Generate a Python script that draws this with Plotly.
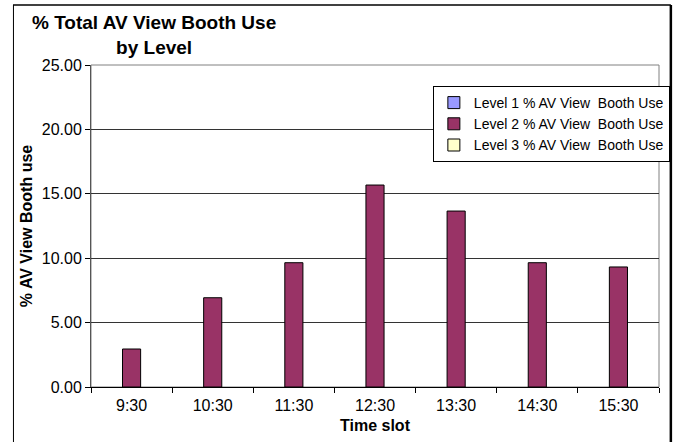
import plotly.graph_objects as go

# data
time_slots = ["9:30", "10:30", "11:30", "12:30", "13:30", "14:30", "15:30"]
level1_use = [None, None, None, None, None, None, None]
level2_use = [2.95, 6.93, 9.65, 15.68, 13.66, 9.65, 9.32]
level3_use = [None, None, None, None, None, None, None]

series_names = [
    "Level 1 % AV View  Booth Use",
    "Level 2 % AV View  Booth Use",
    "Level 3 % AV View  Booth Use",
]
series_colors = ["#9999FF", "#993366", "#FFFFCC"]

FONT = "Liberation Sans, Arial, sans-serif"

W, H = 682, 442
L, R, T, B = 91, 666, 65, 387  # plot area in pixels
pw, ph = R - L, B - T


def px_x(p):
    return (p - L) / pw


def px_y(p):
    return (B - p) / ph


fig = go.Figure()
for name, vals, color in zip(series_names, [level1_use, level2_use, level3_use], series_colors):
    fig.add_trace(
        go.Bar(
            x=time_slots,
            y=vals,
            name=name,
            marker=dict(color=color, line=dict(color="black", width=1)),
        )
    )

fig.update_layout(
    width=W,
    height=H,
    margin=dict(l=L, r=W - R, t=T, b=H - B, pad=0),
    paper_bgcolor="white",
    plot_bgcolor="white",
    font=dict(family=FONT, size=16, color="black"),
    barmode="group",
    bargap=0.33,
    bargroupgap=0,
    legend=dict(
        x=px_x(677),
        xanchor="right",
        y=px_y(86),
        yanchor="top",
        bgcolor="white",
        bordercolor="black",
        borderwidth=1,
        font=dict(size=14, family=FONT),
        itemwidth=30,
        tracegroupgap=0,
        traceorder="normal",
    ),
    xaxis=dict(
        type="category",
        showgrid=False,
        showline=True,
        linecolor="black",
        linewidth=1,
        ticks="outside",
        tickson="boundaries",
        ticklen=5,
        tickcolor="black",
        tickfont=dict(size=16),
        ticklabelstandoff=4,
        title=dict(text="<b>Time slot</b>", font=dict(size=16), standoff=6),
    ),
    yaxis=dict(
        range=[0, 25],
        dtick=5,
        tickformat=".2f",
        showgrid=True,
        gridcolor="#333333",
        gridwidth=1,
        showline=True,
        linecolor="#555555",
        linewidth=1,
        ticks="outside",
        ticklen=5,
        tickcolor="black",
        tickfont=dict(size=16),
        title=dict(text="<b>% AV View Booth use</b>", font=dict(size=16), standoff=5),
        zeroline=False,
    ),
    annotations=[
        dict(
            text="<b>% Total AV View Booth Use<br>by Level</b>",
            xref="paper", yref="paper",
            x=px_x(155), y=px_y(10),
            xanchor="center", yanchor="top",
            showarrow=False,
            font=dict(size=19, family=FONT),
        )
    ],
    shapes=[
        # grey plot area frame
        dict(type="rect", xref="paper", yref="paper", x0=0, x1=1, y0=0, y1=1,
             line=dict(color="#808080", width=1), layer="below"),
        # outer chart border
        dict(type="line", xref="paper", yref="paper",
             x0=px_x(12), x1=px_x(678), y0=px_y(5), y1=px_y(5),
             line=dict(color="black", width=1.5)),
        dict(type="line", xref="paper", yref="paper",
             x0=px_x(12.5), x1=px_x(12.5), y0=px_y(460), y1=px_y(5),
             line=dict(color="black", width=1)),
        dict(type="line", xref="paper", yref="paper",
             x0=px_x(678), x1=px_x(678), y0=px_y(460), y1=px_y(5),
             line=dict(color="black", width=2.5)),
    ],
)

# drop the browser's default 8px body margin so the figure sits at 0,0
fig.write_html(
    "out.html",
    config={"displayModeBar": False},
    post_script="document.body.style.margin = '0';",
)
